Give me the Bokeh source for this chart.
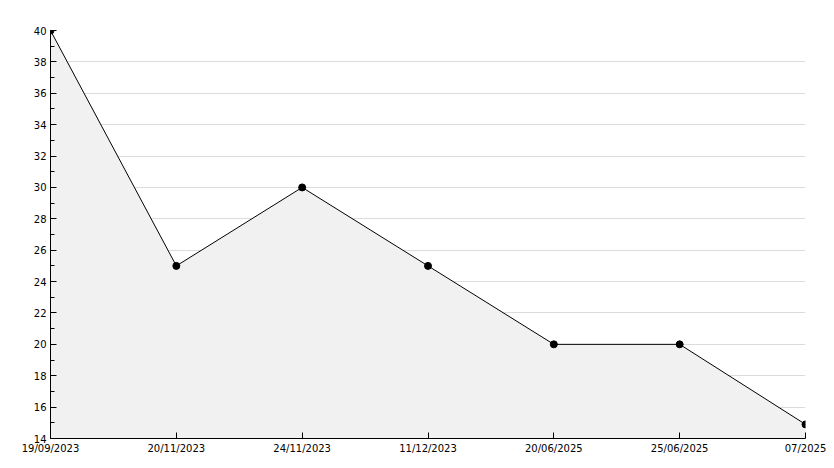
from bokeh.plotting import figure
from bokeh.models import FixedTicker, SingleIntervalTicker, Range1d
from bokeh.embed import file_html
from bokeh.resources import INLINE

dates = ["19/09/2023", "20/11/2023", "24/11/2023", "11/12/2023", "20/06/2025", "25/06/2025", "07/2025"]
values = [40, 25, 30, 25, 20, 20, 14.9]
y_min, y_max = 14, 40

xs = list(range(len(dates)))

p = figure(width=826, height=460, output_backend="svg", toolbar_location=None,
           x_range=Range1d(0, len(dates) - 1), y_range=Range1d(y_min, y_max),
           min_border_left=50, min_border_right=21, min_border_top=30, min_border_bottom=22)
p.outline_line_color = None
p.background_fill_color = "white"
p.border_fill_color = "white"

p.varea(x=xs, y1=[y_min] * len(xs), y2=values, fill_color="#f1f1f1")
p.line(xs, values, line_color="black", line_width=1)
p.scatter(xs, values, size=7, color="black", marker="circle")

p.xgrid.visible = False
p.ygrid.grid_line_color = "#dcdcdc"
p.ygrid.grid_line_width = 1

p.xaxis.ticker = FixedTicker(ticks=xs)
p.xaxis.major_label_overrides = {i: d for i, d in enumerate(dates)}
p.yaxis.ticker = SingleIntervalTicker(interval=2, num_minor_ticks=2)

for ax in (p.xaxis[0], p.yaxis[0]):
    ax.axis_line_color = "black"
    ax.major_tick_line_color = "black"
    ax.minor_tick_line_color = "black"
    ax.major_tick_in = 6
    ax.major_tick_out = 0
    ax.minor_tick_in = 4
    ax.minor_tick_out = 0
    ax.major_label_text_font = "DejaVu Sans"
    ax.major_label_text_font_size = "10px"
    ax.major_label_text_color = "black"
    ax.major_label_standoff = 4

p.xaxis.minor_tick_line_color = None

open("out.html", "w").write(file_html(p, INLINE))
